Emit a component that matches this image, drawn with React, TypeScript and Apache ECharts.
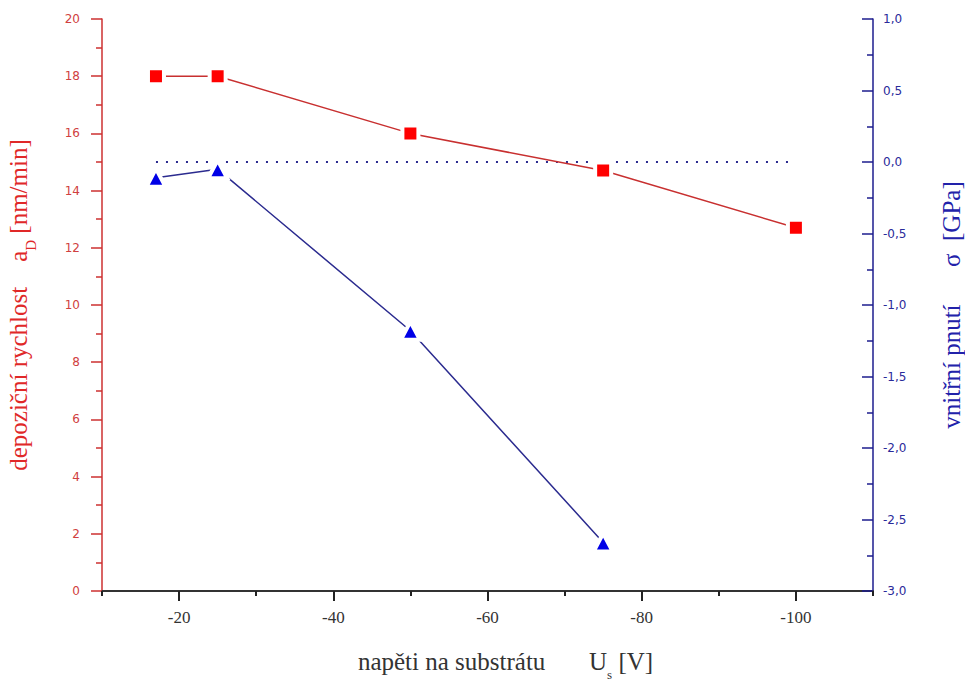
import React, { useEffect, useRef } from "react";
import * as echarts from "echarts";

const voltage = [-17, -25, -50, -75, -100];
const depositionRate = [18.0, 18.0, 16.0, 14.7, 12.7];
const stressVoltage = [-17, -25, -50, -75];
const stress = [-0.11, -0.05, -1.18, -2.66];
const zeroLineX = [-17, -100];
const xMajorTicks = [-20, -40, -60, -80, -100];
const xMinorTicks = [-10, -30, -50, -70, -90, -110];

const RED_AXIS = "#cc3030";
const BLUE_AXIS = "#1c1c8e";
const SERIF = "Liberation Serif";
const SANS = "DejaVu Sans";

export default function App() {
  const ref = useRef<HTMLDivElement>(null);
  useEffect(() => {
    if (!ref.current) return;
    const chart = echarts.init(ref.current, undefined, { renderer: "svg" });
    const fmtComma = (v: number) => v.toFixed(1).replace(".", ",");
    chart.setOption({
      animation: false,
      backgroundColor: "#ffffff",
      grid: { left: 102, right: 92, top: 19, bottom: 95, outerBoundsMode: "none", containLabel: false },
      xAxis: [
        {
          type: "value",
          min: -110,
          max: -10,
          inverse: true,
          position: "bottom",
          axisLine: { show: true, onZero: false, lineStyle: { color: "#333333", width: 2 } },
          axisTick: { show: true, customValues: xMajorTicks, length: 10, inside: false, lineStyle: { color: "#222", width: 2 } },
          axisLabel: {
            show: true,
            customValues: xMajorTicks,
            margin: 18,
            color: "#333",
            fontFamily: SERIF,
            fontSize: 17,
          },
          splitLine: { show: false },
          name: "{p|}{t|napěti na substrátu       U}{s|s}{t| [V]}",
          nameLocation: "middle",
          nameGap: 58,
          nameTextStyle: {
            rich: {
              p: { width: 36, fontSize: 25, lineHeight: 28 },
              t: { fontFamily: SERIF, fontSize: 25, color: "#333", verticalAlign: "top", lineHeight: 28 },
              s: { fontFamily: SERIF, fontSize: 13, color: "#333", verticalAlign: "top", padding: [19, 0, 0, 0] },
            },
          },
        },
        {
          type: "value",
          min: -110,
          max: -10,
          inverse: true,
          position: "bottom",
          axisLine: { show: false, onZero: false },
          axisTick: { show: true, customValues: xMinorTicks, length: 5, lineStyle: { color: "#222", width: 2 } },
          axisLabel: { show: false },
          splitLine: { show: false },
        },
      ],
      yAxis: [
        {
          type: "value",
          min: 0,
          max: 20,
          interval: 2,
          position: "left",
          axisLine: { show: true, onZero: false, lineStyle: { color: RED_AXIS, width: 1.5 } },
          axisTick: { show: true, length: 11, lineStyle: { color: RED_AXIS, width: 1.5 } },
          minorTick: { show: true, splitNumber: 2, length: 6, lineStyle: { color: RED_AXIS, width: 1.5 } },
          axisLabel: { margin: 22, color: "#d04040", fontFamily: SANS, fontSize: 12 },
          splitLine: { show: false },
          name: "{t|depoziční rychlost    a}{s|D}{t| [nm/min]}",
          nameLocation: "middle",
          nameRotate: 90,
          nameGap: 64,
          nameTextStyle: {
            rich: {
              t: { fontFamily: SERIF, fontSize: 25, color: "#e02828", verticalAlign: "top", lineHeight: 28 },
              s: { fontFamily: SERIF, fontSize: 15, color: "#e02828", verticalAlign: "top", padding: [17, 0, 0, 0] },
            },
          },
        },
        {
          type: "value",
          min: -3,
          max: 1,
          interval: 0.5,
          position: "right",
          axisLine: { show: true, onZero: false, lineStyle: { color: BLUE_AXIS, width: 1.5 } },
          axisTick: { show: true, inside: true, length: 11, lineStyle: { color: BLUE_AXIS, width: 1.5 } },
          minorTick: { show: true, splitNumber: 2, length: 6, lineStyle: { color: BLUE_AXIS, width: 1.5 } },
          axisLabel: {
            margin: 10,
            color: "#2a2a9a",
            fontFamily: SANS,
            fontSize: 12,
            formatter: fmtComma,
          },
          splitLine: { show: false },
          name: "vnitřní pnutí      σ  [GPa]",
          nameLocation: "middle",
          nameRotate: 90,
          nameGap: 66,
          nameTextStyle: { fontFamily: SERIF, fontSize: 25, color: "#2222aa" },
        },
      ],
      series: [
        {
          type: "line",
          name: "zero",
          xAxisIndex: 0,
          yAxisIndex: 1,
          data: zeroLineX.map((x) => [x, 0]),
          symbol: "none",
          lineStyle: { color: "#2b2b8f", width: 2, type: [2, 8] },
          z: 1,
        },
        {
          type: "line",
          name: "rate",
          xAxisIndex: 0,
          yAxisIndex: 0,
          data: voltage.map((x, i) => [x, depositionRate[i]]),
          symbol: "rect",
          symbolSize: 16,
          lineStyle: { color: "#c83030", width: 1.5 },
          itemStyle: { color: "#ff0000", borderColor: "#ffffff", borderWidth: 4 },
          z: 3,
        },
        {
          type: "line",
          name: "stress",
          xAxisIndex: 0,
          yAxisIndex: 1,
          data: stressVoltage.map((x, i) => [x, stress[i]]),
          symbol: "triangle",
          symbolSize: [19, 18],
          lineStyle: { color: "#2b2b8f", width: 1.5 },
          itemStyle: { color: "#0000e6", borderColor: "#ffffff", borderWidth: 4 },
          z: 4,
        },
      ],
    });
    return () => chart.dispose();
  }, []);
  return <div ref={ref} style={{ position: "fixed", left: 0, top: 0, width: 965, height: 686 }} />;
}
